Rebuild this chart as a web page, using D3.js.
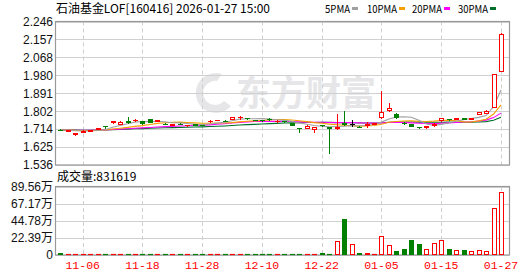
<!DOCTYPE html>
<html><head><meta charset="utf-8">
<script src="https://cdn.jsdelivr.net/npm/d3@7"></script>
<style>body{margin:0;background:#fff} svg{display:block}</style>
</head><body><svg id="c" width="530" height="276"></svg>
<script>
const dates = ["11-03","11-04","11-05","11-06","11-07","11-10","11-11","11-12","11-13","11-14",
  "11-17","11-18","11-19","11-20","11-21","11-24","11-25","11-26","11-27","11-28",
  "12-01","12-02","12-03","12-04","12-05","12-08","12-09","12-10","12-11","12-12",
  "12-15","12-16","12-17","12-18","12-19","12-22","12-23","12-24","12-25","12-26",
  "12-29","12-30","12-31","01-05","01-06","01-07","01-08","01-09","01-12","01-13",
  "01-14","01-15","01-16","01-19","01-20","01-21","01-22","01-23","01-26","01-27"];
const open = [1.711,1.705,1.689,1.700,1.706,1.716,1.729,1.750,1.739,1.754,
  1.757,1.754,1.763,1.755,1.741,1.735,1.741,1.732,1.737,1.735,
  1.752,1.758,1.756,1.764,1.773,1.768,1.760,1.759,1.765,1.752,
  1.754,1.742,1.718,1.721,1.714,1.735,1.724,1.718,1.742,1.739,
  1.726,1.736,1.740,1.772,1.807,1.788,1.746,1.739,1.724,1.725,
  1.733,1.757,1.763,1.765,1.768,1.766,1.790,1.795,1.824,2.003];
const high = [1.712,1.709,1.692,1.708,1.710,1.721,1.729,1.754,1.752,1.772,
  1.762,1.755,1.764,1.760,1.742,1.739,1.742,1.735,1.738,1.736,
  1.758,1.760,1.757,1.773,1.778,1.769,1.761,1.760,1.770,1.757,
  1.755,1.743,1.718,1.732,1.725,1.736,1.726,1.790,1.803,1.759,
  1.727,1.747,1.744,1.902,1.843,1.791,1.750,1.740,1.725,1.728,
  1.742,1.768,1.764,1.771,1.769,1.768,1.798,1.806,1.986,2.188];
const low = [1.708,1.704,1.685,1.699,1.704,1.714,1.718,1.743,1.737,1.742,
  1.756,1.741,1.749,1.754,1.738,1.734,1.738,1.731,1.734,1.732,
  1.750,1.757,1.753,1.762,1.766,1.766,1.757,1.755,1.757,1.751,
  1.750,1.732,1.701,1.720,1.701,1.730,1.594,1.716,1.735,1.730,
  1.723,1.726,1.738,1.770,1.805,1.771,1.738,1.727,1.721,1.717,
  1.731,1.755,1.760,1.762,1.765,1.765,1.789,1.794,1.822,2.000];
const close = [1.709,1.707,1.692,1.706,1.708,1.719,1.727,1.753,1.750,1.751,
  1.760,1.742,1.750,1.758,1.739,1.737,1.739,1.734,1.735,1.733,
  1.755,1.759,1.754,1.772,1.774,1.767,1.758,1.757,1.763,1.755,
  1.752,1.733,1.717,1.731,1.724,1.732,1.720,1.725,1.737,1.739,
  1.724,1.739,1.742,1.797,1.818,1.773,1.743,1.729,1.722,1.727,
  1.740,1.767,1.762,1.767,1.766,1.767,1.797,1.805,1.985,2.183];
const volume = [26000,11000,13000,12000,10000,12000,14000,13000,12000,11000,
  10000,13000,12000,11000,12000,10000,11000,10000,12000,11000,
  13000,10000,11000,12000,10000,11000,12000,10000,12000,11000,
  12000,13000,12000,11000,12000,28000,10000,180000,474000,141000,
  26000,26000,10000,250000,132000,53000,79000,198000,145000,75000,
  158000,194000,79000,62000,66000,49000,66000,53000,619000,831619];

const priceTicks = [1.536,1.625,1.714,1.802,1.891,1.980,2.068,2.157,2.246];
const volTicks = [0,223900,447800,671700,895600];
const volTickLabels = ["0","22.39万","44.78万","67.17万","89.56万"];
const dateTicks = ["11-06","11-18","11-28","12-10","12-22","01-05","01-15","01-27"];
const maPeriods = [5,10,20,30];
const maNames = ["5PMA","10PMA","20PMA","30PMA"];
const maColors = ["#a0a0a0","#f5a000","#ff00ff","#006f2a"];
const title = "石油基金LOF[160416] 2026-01-27 15:00";
const volTitle = "成交量:831619";
const watermark = "东方财富";

const UP = "#ff0000", DOWN = "#008000", FLAT = "#000000";
const svg = d3.select("#c");
const L = 55, R = 509, PT = 21.5, PB = 165, VT = 187, VB = 255;

const x = d3.scalePoint().domain(dates).range([60.3, 501]);
const y = d3.scaleLinear().domain([priceTicks[0], priceTicks[priceTicks.length-1]]).range([PB, PT]);
const yv = d3.scaleLinear().domain([0, volTicks[volTicks.length-1]]).range([VB, VT]);
const px = v => Math.round(v) + 0.5;

// watermark
const wm = svg.append("g");
wm.append("text").attr("x", 236).attr("y", 106).attr("font-family", "Noto Sans CJK SC")
  .attr("font-weight", "bold").attr("font-size", 35).attr("fill", "#e6e6e8").text(watermark);
wm.append("path").attr("d", "M 222 74 A 20 20 0 1 0 231 106 L 224 101 A 12 12 0 1 1 217 81 Z").attr("fill", "#e6e6e8");

// grids
function grid(g, yTop, yBot, yVals) {
  g.selectAll("line.h").data(yVals).join("line")
    .attr("x1", L).attr("x2", R).attr("y1", d => px(d)).attr("y2", d => px(d))
    .attr("stroke", "#d0d0d0").attr("stroke-width", 1);
  g.selectAll("line.v").data(dateTicks).join("line")
    .attr("x1", d => px(x(d))).attr("x2", d => px(x(d))).attr("y1", yTop).attr("y2", yBot)
    .attr("stroke", "#cfcfcf").attr("stroke-dasharray", "4,3").attr("stroke-width", 1);
}
grid(svg.append("g"), PT, PB, priceTicks.map(y));
grid(svg.append("g"), VT, VB, volTicks.map(yv));

// frames
svg.append("rect").attr("x", L + 0.5).attr("y", PT).attr("width", R - L).attr("height", PB - PT)
  .attr("fill", "none").attr("stroke", "#999").attr("stroke-width", 1.2);
svg.append("rect").attr("x", L + 0.5).attr("y", VT - 0.5).attr("width", R - L).attr("height", VB - VT + 0.5)
  .attr("fill", "none").attr("stroke", "#999").attr("stroke-width", 1.2);

// y axis labels (price)
svg.append("g").selectAll("text").data(priceTicks).join("text")
  .attr("x", 53).attr("y", d => y(d)).attr("dy", "0.36em").attr("text-anchor", "end")
  .attr("font-family", "Liberation Sans, Arial").attr("font-size", 12).attr("fill", "#111")
  .text(d => d.toFixed(3));
// volume labels
svg.append("g").selectAll("text").data(volTicks).join("text")
  .attr("x", 53).attr("y", d => yv(d)).attr("dy", "0.36em").attr("text-anchor", "end")
  .attr("font-family", "Liberation Sans, Noto Sans CJK SC").attr("font-size", 12).attr("fill", "#111")
  .text((d, i) => volTickLabels[i]);
// x labels
svg.append("g").selectAll("text").data(dateTicks).join("text")
  .attr("x", d => x(d)).attr("y", 269).attr("text-anchor", "middle")
  .attr("font-family", "Liberation Mono, monospace").attr("font-size", 11.5).attr("fill", "#ff0000")
  .text(d => d);

// MA lines
function ma(n) {
  return close.map((c, i) => {
    let s = 0;
    for (let k = i - n + 1; k <= i; k++) s += close[Math.max(k, 0)];
    return s / n;
  });
}
const line = d3.line().x((d, i) => x(dates[i])).y(d => y(d));
maPeriods.slice().reverse().forEach((n, j) => {
  const idx = maPeriods.length - 1 - j;
  svg.append("path").attr("d", line(ma(n))).attr("fill", "none")
    .attr("stroke", maColors[idx]).attr("stroke-width", 1.1);
});

// candles
const dirOf = i => close[i] > open[i] ? 1 : close[i] < open[i] ? -1 : 0;
const colOf = d => d > 0 ? UP : d < 0 ? DOWN : FLAT;
const cg = svg.append("g");
dates.forEach((dt, i) => {
  const cx = Math.round(x(dt));
  const dir = dirOf(i), col = colOf(dir);
  const yo = y(open[i]), yc = y(close[i]);
  const top = Math.round(Math.min(yo, yc)), bot = Math.round(Math.max(yo, yc));
  cg.append("line").attr("x1", cx + 0.5).attr("x2", cx + 0.5)
    .attr("y1", Math.round(y(high[i]))).attr("y2", Math.round(y(low[i])) + 1)
    .attr("stroke", col).attr("stroke-width", 1);
  if (bot - top < 1) {
    cg.append("line").attr("x1", cx - 2).attr("x2", cx + 3).attr("y1", top + 0.5).attr("y2", top + 0.5)
      .attr("stroke", col).attr("stroke-width", 1);
  } else if (dir > 0) {
    cg.append("rect").attr("x", cx - 1.5).attr("y", top + 0.5).attr("width", 4).attr("height", bot - top)
      .attr("fill", "#fff").attr("stroke", col).attr("stroke-width", 1);
  } else {
    cg.append("rect").attr("x", cx - 2).attr("y", top).attr("width", 5).attr("height", bot - top + 1)
      .attr("fill", col);
  }
});

// volume bars
const vg = svg.append("g");
dates.forEach((dt, i) => {
  const cx = Math.round(x(dt));
  let dir = dirOf(i);
  if (dir === 0) dir = i > 0 && close[i] >= close[i - 1] ? 1 : -1;
  const col = colOf(dir);
  const top = Math.round(yv(volume[i]));
  const h = VB - top;
  if (h < 2) {
    vg.append("line").attr("x1", cx - 2).attr("x2", cx + 3).attr("y1", VB - 0.5).attr("y2", VB - 0.5)
      .attr("stroke", col).attr("stroke-width", 1.2);
  } else if (dir > 0) {
    vg.append("rect").attr("x", cx - 1.5).attr("y", top + 0.5).attr("width", 4).attr("height", h - 1)
      .attr("fill", "#fff").attr("stroke", col).attr("stroke-width", 1);
  } else {
    vg.append("rect").attr("x", cx - 2).attr("y", top).attr("width", 5).attr("height", h).attr("fill", col);
  }
});

// header
svg.append("text").attr("x", 56).attr("y", 13).attr("font-family", "Noto Sans CJK SC")
  .attr("font-size", 12).attr("fill", "#000").attr("textLength", 214).attr("lengthAdjust", "spacingAndGlyphs")
  .text(title);
svg.append("text").attr("x", 57).attr("y", 181).attr("font-family", "Noto Sans CJK SC")
  .attr("font-size", 12).attr("fill", "#000").text(volTitle);

// legend
const legX = [325, 367, 412, 458];
const legW = [25, 30, 30, 30];
const lg = svg.append("g");
maNames.forEach((nm, i) => {
  lg.append("text").attr("x", legX[i]).attr("y", 13).attr("font-family", "Noto Sans CJK SC")
    .attr("font-size", 11).attr("fill", "#000").attr("textLength", legW[i]).attr("lengthAdjust", "spacingAndGlyphs")
    .text(nm);
  lg.append("rect").attr("x", legX[i] + legW[i] + 2).attr("y", 7).attr("width", 6).attr("height", 3)
    .attr("fill", maColors[i]);
});
</script>
</body></html>
